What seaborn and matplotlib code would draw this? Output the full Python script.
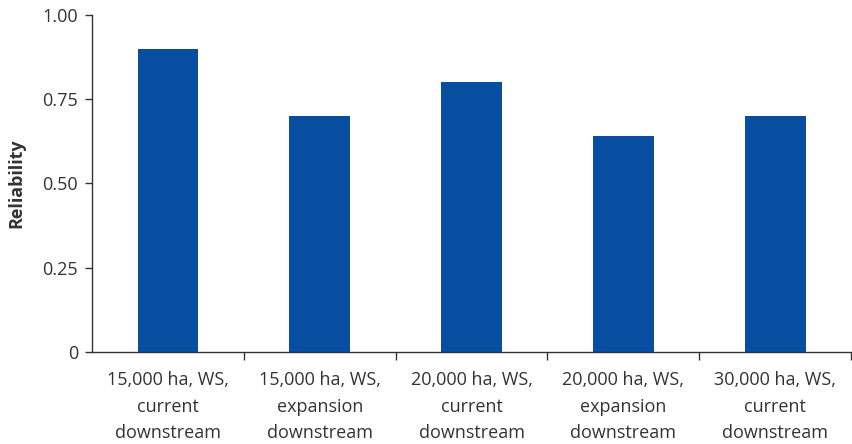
import matplotlib
matplotlib.use("Agg")
import matplotlib.pyplot as plt
from matplotlib.ticker import FixedLocator, NullFormatter
import seaborn as sns
import pandas as pd

categories = [
    "15,000 ha, WS,\ncurrent\ndownstream",
    "15,000 ha, WS,\nexpansion\ndownstream",
    "20,000 ha, WS,\ncurrent\ndownstream",
    "20,000 ha, WS,\nexpansion\ndownstream",
    "30,000 ha, WS,\ncurrent\ndownstream",
]
reliability = [0.90, 0.70, 0.80, 0.64, 0.70]
y_ticks = [0, 0.25, 0.50, 0.75, 1.00]
y_tick_labels = ["0", "0.25", "0.50", "0.75", "1.00"]

sns.set_theme(style="white")
plt.rcParams["font.family"] = ["Open Sans", "DejaVu Sans"]

text_color = "#333333"
bar_color = "#074da0"

df = pd.DataFrame({"scenario": categories, "reliability": reliability})

fig = plt.figure(figsize=(8.52, 4.44), dpi=100)
ax = fig.add_axes([92 / 852, 1 - 352 / 444, 760 / 852 - 0.001, 337 / 444])

sns.barplot(data=df, x="scenario", y="reliability", color=bar_color,
            width=0.4, saturation=1, ax=ax, edgecolor="none")

ax.set_xlim(-0.5, 4.5)
ax.set_ylim(0, 1.0)

ax.set_yticks(y_ticks)
ax.set_yticklabels(y_tick_labels)

# Category boundary ticks (major) and centered labels (minor)
ax.xaxis.set_major_locator(FixedLocator([0.5, 1.5, 2.5, 3.5, 4.5]))
ax.xaxis.set_major_formatter(NullFormatter())
ax.xaxis.set_minor_locator(FixedLocator(range(len(categories))))
ax.set_xticklabels(categories, minor=True, fontsize=13, color=text_color,
                   linespacing=1.6)
ax.tick_params(axis="x", which="major", direction="out", length=6, width=1,
               color=text_color, bottom=True)
ax.tick_params(axis="x", which="minor", length=0, pad=14)
ax.tick_params(axis="y", direction="out", length=5, width=1, color=text_color,
               labelsize=13, labelcolor=text_color, pad=5, left=True)

ax.set_xlabel("")
ax.set_ylabel("Reliability", fontsize=13, fontweight="bold", color=text_color,
              labelpad=12)

for side in ["top", "right"]:
    ax.spines[side].set_visible(False)
for side in ["left", "bottom"]:
    ax.spines[side].set_color(text_color)
    ax.spines[side].set_linewidth(1)

fig.savefig("out.png", dpi=100)
